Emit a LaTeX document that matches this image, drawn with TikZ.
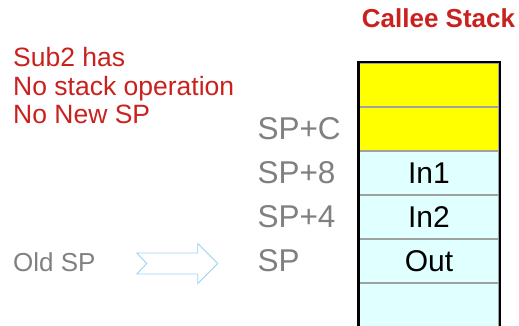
\documentclass[tikz,border=0pt]{standalone}
\usepackage{fontspec}
\setmainfont{Liberation Sans}
\usepackage{tikz}
\definecolor{calleered}{HTML}{C9211E}
\definecolor{labelgray}{HTML}{808080}
\definecolor{rowline}{HTML}{A0A0A0}
\definecolor{cellyellow}{HTML}{FFFF00}
\definecolor{cellcyan}{HTML}{E0FFFF}
\definecolor{arrowblue}{HTML}{99D5F0}
\begin{document}
\begin{tikzpicture}[x=1pt,y=-1pt,
  cell/.style={draw=rowline, line width=1.4pt, minimum width=140pt, minimum height=44pt,
    inner sep=0pt, font=\fontsize{30}{30}\selectfont},
  offset/.style={anchor=west, inner sep=0pt, text=labelgray, font=\fontsize{31.5}{31.5}\selectfont},
  note/.style={anchor=base west, inner sep=0pt, text=calleered, font=\fontsize{26.5}{26.5}\selectfont}]
\useasboundingbox (0,0) rectangle (519,326);
\clip (0,0) rectangle (519,326);
\node[anchor=base, inner sep=0pt, text=calleered, font=\fontsize{26}{26}\selectfont\bfseries]
  (title) at (438.5,28) {Callee Stack};
\node[note] (note1) at (13,67) {Sub2 has};
\node[note] (note2) at (13,96) {No stack operation};
\node[note] (note3) at (13,124) {No New SP};
% stack cells, top to bottom
\foreach \name/\col/\txt [count=\i] in {ctop/cellyellow/{}, cbot/cellyellow/{}, in1/cellcyan/In1,
    in2/cellcyan/In2, out/cellcyan/Out, free/cellcyan/{}}
  \node[cell, fill=\col] (\name) at (429,41+44*\i) {\txt};
\draw[line width=2.4pt] (free.south west) -- (ctop.north west) -- (ctop.north east) -- (free.south east);
\foreach \cname/\lab in {cbot/SP+C, in1/SP+8, in2/SP+4, out/SP}
  \node[offset] (sp\cname) at ([xshift=-101pt]\cname.west) {\lab};
\node[anchor=west, inner sep=0pt, text=labelgray, font=\fontsize{26}{26}\selectfont]
  (oldsp) at (13,262) {Old SP};
\coordinate (arr) at ([xshift=41pt,yshift=-1.5pt]oldsp.east);
\draw[arrowblue, line width=0.9pt, fill=white] (arr) ++(0,-10.5) -- ++(61,0) -- ++(0,-9.5)
  -- ++(20,20) -- ++(-20,20) -- ++(0,-9.5) -- ++(-61,0) -- ++(10,-10.5) -- cycle;
\end{tikzpicture}
\end{document}
